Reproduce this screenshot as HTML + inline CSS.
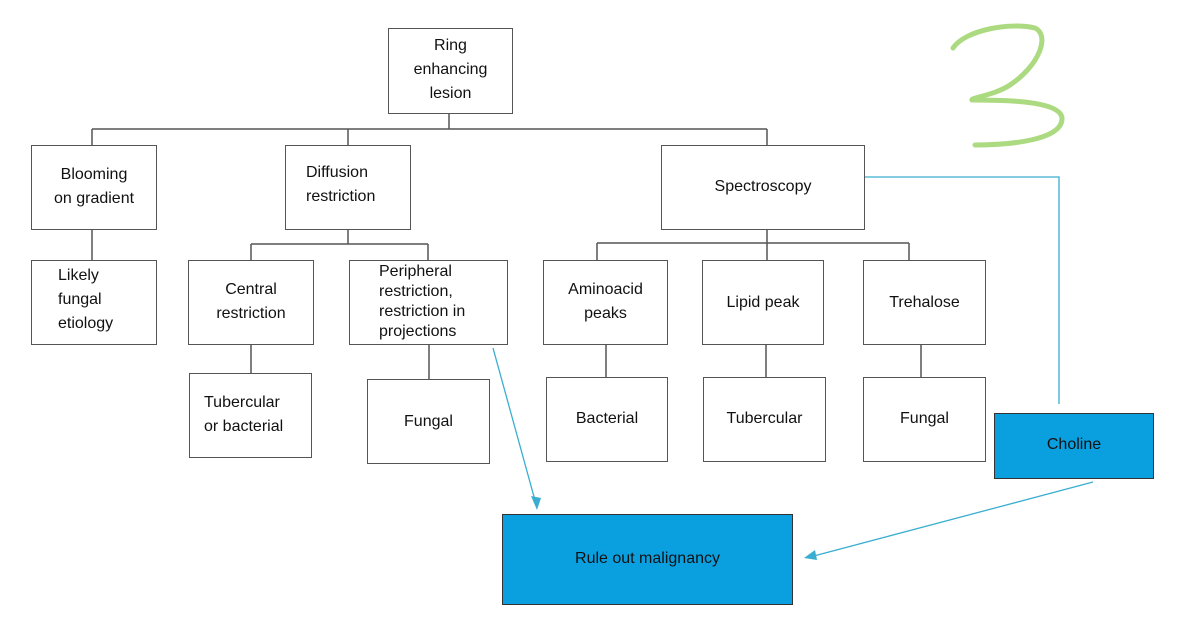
<!DOCTYPE html>
<html><head><meta charset="utf-8"><style>
body{margin:0;width:1200px;height:638px;background:#fff;position:relative;overflow:hidden;font-family:"Liberation Sans",sans-serif;font-size:16px;color:#111}
.b{position:absolute;border:1.5px solid #555;box-sizing:border-box;background:#fff}
.t{position:absolute;line-height:24px;white-space:nowrap}
.blue{background:#0aa0e0;border-color:#333}
svg{position:absolute;left:0;top:0}
</style></head><body>
<svg width="1200" height="638">
<g stroke="#555" stroke-width="1.5" fill="none">
<path d="M449 113V129M92 129H767M92 129V145M348 129V145M767 129V145"/>
<path d="M92 229V260"/>
<path d="M348 229V244M251 244H428M251 244V260M428 244V260"/>
<path d="M251 344V373M429 344V379"/>
<path d="M767 229V243M597 243H909M597 243V260M767 243V260M909 243V260"/>
<path d="M606 344V377M766 344V377M921 344V377"/>
</g>
<g stroke="#3aaed0" stroke-width="1.3" fill="none">
<path d="M865 177H1059V404"/>
<path d="M493 348L536 504"/>
<path d="M1093 482L810 557"/>
</g>
<path d="M537 510L531 496L541 498Z" fill="#3aaed0"/>
<path d="M804 558L815 550L817 560Z" fill="#3aaed0"/>
<path d="M953 48C965 30 1010 22 1035 28C1050 35 1040 65 1010 85C995 95 970 98 972 100C1000 100 1060 100 1062 118C1063 140 1010 145 975 145" stroke="#9ed36a" stroke-width="5" fill="none" stroke-linecap="round" opacity="0.85"/>
</svg>

<div class="b" style="left:388px;top:28px;width:125px;height:86px"></div>
<div class="t" style="left:388px;top:34px;width:125px;text-align:center">Ring<br>enhancing<br>lesion</div>

<div class="b" style="left:31px;top:145px;width:126px;height:85px"></div>
<div class="t" style="left:31px;top:163px;width:126px;text-align:center">Blooming<br>on gradient</div>

<div class="b" style="left:285px;top:145px;width:126px;height:85px"></div>
<div class="t" style="left:306px;top:161px">Diffusion<br>restriction</div>

<div class="b" style="left:661px;top:145px;width:204px;height:85px"></div>
<div class="t" style="left:661px;top:175px;width:204px;text-align:center">Spectroscopy</div>

<div class="b" style="left:31px;top:260px;width:126px;height:85px"></div>
<div class="t" style="left:58px;top:264px">Likely<br>fungal<br>etiology</div>

<div class="b" style="left:188px;top:260px;width:126px;height:85px"></div>
<div class="t" style="left:188px;top:278px;width:126px;text-align:center">Central<br>restriction</div>

<div class="b" style="left:349px;top:260px;width:159px;height:85px"></div>
<div class="t" style="left:379px;top:262px;line-height:20px">Peripheral<br>restriction,<br>restriction in<br>projections</div>

<div class="b" style="left:543px;top:260px;width:125px;height:85px"></div>
<div class="t" style="left:543px;top:278px;width:125px;text-align:center">Aminoacid<br>peaks</div>

<div class="b" style="left:702px;top:260px;width:122px;height:85px"></div>
<div class="t" style="left:702px;top:291px;width:122px;text-align:center">Lipid peak</div>

<div class="b" style="left:863px;top:260px;width:123px;height:85px"></div>
<div class="t" style="left:863px;top:291px;width:123px;text-align:center">Trehalose</div>

<div class="b" style="left:189px;top:373px;width:123px;height:85px"></div>
<div class="t" style="left:204px;top:391px">Tubercular<br>or bacterial</div>

<div class="b" style="left:367px;top:379px;width:123px;height:85px"></div>
<div class="t" style="left:367px;top:410px;width:123px;text-align:center">Fungal</div>

<div class="b" style="left:546px;top:377px;width:122px;height:85px"></div>
<div class="t" style="left:546px;top:407px;width:122px;text-align:center">Bacterial</div>

<div class="b" style="left:703px;top:377px;width:123px;height:85px"></div>
<div class="t" style="left:703px;top:407px;width:123px;text-align:center">Tubercular</div>

<div class="b" style="left:863px;top:377px;width:123px;height:85px"></div>
<div class="t" style="left:863px;top:407px;width:123px;text-align:center">Fungal</div>

<div class="b blue" style="left:994px;top:413px;width:160px;height:66px"></div>
<div class="t" style="left:994px;top:433px;width:160px;text-align:center">Choline</div>

<div class="b blue" style="left:502px;top:514px;width:291px;height:91px"></div>
<div class="t" style="left:502px;top:547px;width:291px;text-align:center">Rule out malignancy</div>
</body></html>
